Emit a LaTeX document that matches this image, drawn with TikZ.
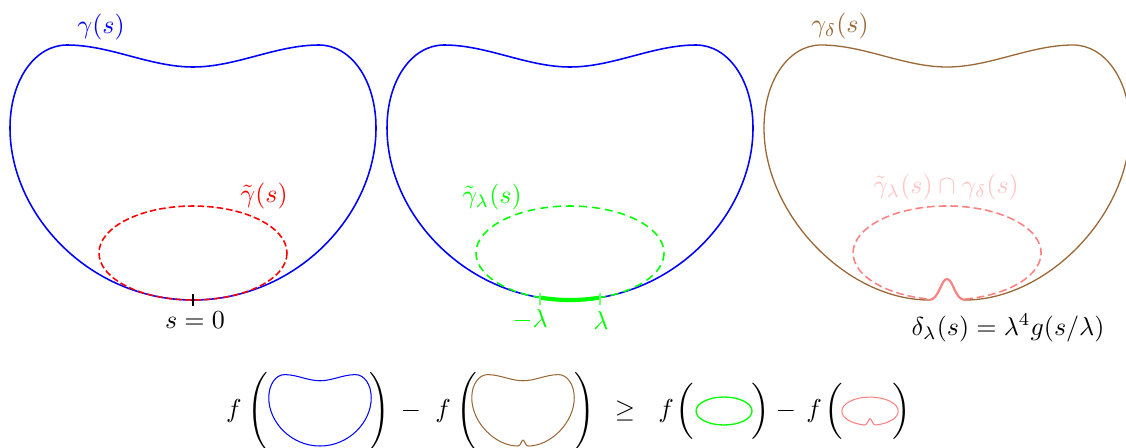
\documentclass[tikz,border=0pt]{standalone}
\usepackage{amsmath}
\usepackage{xcolor}
\usepackage{tikz}
\usetikzlibrary{positioning}
\definecolor{curveblue}{HTML}{0000FF}
\definecolor{curvebrown}{HTML}{9A6836}
\definecolor{curvered}{HTML}{FF0000}
\definecolor{curvegreen}{HTML}{00FF00}
\definecolor{curvepink}{HTML}{FF8080}
\definecolor{labelpink}{HTML}{FFC4C4}
% the closed curve, bottom point at the origin, drawn from right to left over the top
\newcommand{\kidneytop}{.. controls (183,-220) and (158,-255) .. (126,-255)
  .. controls (83,-255) and (43,-233) .. (0,-233)
  .. controls (-43,-233) and (-83,-255) .. (-126,-255)
  .. controls (-158,-255) and (-183,-220) .. (-183,-172)}
\newcommand{\kidney}{(0,0) .. controls (103,0) and (183,-85) .. (183,-172)
  \kidneytop .. controls (-183,-85) and (-103,0) .. cycle}
\newcommand{\bumppart}{(-18,0) .. controls (-8,0) and (-6,-21) .. (0,-21)
  .. controls (6,-21) and (8,0) .. (18,0)}
\newcommand{\kidneybump}{\bumppart .. controls (100,0) and (183,-85) .. (183,-172)
  \kidneytop .. controls (-183,-85) and (-100,0) .. cycle}

\begin{document}
\begin{tikzpicture}[x=0.385pt,y=-0.385pt,
  lbl/.style={inner sep=0pt},
  bigcurve/.style={line width=0.6pt},
  smallcurve/.style={line width=0.4pt}]
  \useasboundingbox (0,0) rectangle (1126,447);
  % gamma and the ellipse inside it
  \begin{scope}[shift={(193,300)}]
    \draw[curveblue,bigcurve] \kidney;
    \draw[curvered,bigcurve,dash pattern=on 2.5pt off 1.2pt] (0,-47) ellipse [x radius=94,y radius=47];
    \draw[black,line width=0.8pt] (0,-6)--(0,6);
  \end{scope}
  \node[lbl,curveblue] (gam) at (101,27) {$\gamma(s)$};
  \node[lbl,curvered] (gamt) at (264,196) {$\tilde{\gamma}(s)$};
  \node[lbl] (szero) at (195,320) {$s=0$};
  % the same curve, the piece between -lambda and lambda
  \begin{scope}[shift={(570,300)}]
    \draw[curveblue,bigcurve] \kidney;
    \draw[curvegreen,bigcurve,dash pattern=on 3pt off 2pt] (0,-47) ellipse [x radius=94,y radius=47];
    \draw[curvegreen,line width=1.6pt] (0,-47) ++(71.4:94 and 47) arc[start angle=71.4,end angle=108.6,x radius=94,y radius=47];
    \foreach \s in {-30,30}
      \draw[curvegreen!55,line width=0.8pt] (\s,-7)--(\s,5);
  \end{scope}
  \node[lbl,curvegreen] (gaml) at (492,197) {$\tilde{\gamma}_\lambda(s)$};
  \node[lbl,curvegreen] (lamm) at (530,320) {$-\lambda$};
  \node[lbl,curvegreen] (lamp) at (601,320) {$\lambda$};
  % perturbed curve with the bump
  \begin{scope}[shift={(947,300)}]
    \draw[curvebrown,line width=0.5pt] \kidneybump;
    \draw[curvepink,bigcurve,dash pattern=on 3pt off 1.5pt] (18,-0.9) arc[start angle=79,end angle=-259,x radius=94,y radius=47];
    \draw[curvepink,line width=0.8pt] \bumppart;
  \end{scope}
  \node[lbl,curvebrown] (gamd) at (840,26) {$\gamma_\delta(s)$};
  \node[lbl,labelpink] (gamc) at (946,187) {$\tilde{\gamma}_\lambda(s)\cap\gamma_\delta(s)$};
  \node[lbl] (delta) at (1008,328) {$\delta_\lambda(s)=\lambda^4g(s/\lambda)$};
  % the inequality
  \foreach \n/\x/\t in {fa/234/$f$, pa/258/$\Bigg($, qa/380/$\Bigg)$, ma/411/$-$,
      fb/443/$f$, pb/467/$\Bigg($, qb/585/$\Bigg)$, ge/625/$\geq$,
      fc/666/$f$, mc/786/$-$, fd/814/$f$}
    \node[lbl] (\n) at (\x,411) {\t};
  \foreach \n/\x/\t in {pc/685/$\Big($, qc/761/$\Big)$, pd/834/$\Big($, qd/902/$\Big)$}
    \node[lbl,font=\large] (\n) at (\x,411) {\t};
  \begin{scope}[shift={(320,446)},scale=0.28]
    \draw[curveblue,smallcurve] \kidney;
  \end{scope}
  \begin{scope}[shift={(523,446)},scale=0.28]
    \draw[curvebrown,smallcurve] \kidneybump;
  \end{scope}
  \draw[curvegreen,line width=0.5pt] (724,411) ellipse [x radius=28,y radius=14];
  \begin{scope}[shift={(870,425)},scale=0.3]
    \draw[curvepink,smallcurve] \bumppart arc[start angle=79,end angle=-259,x radius=94,y radius=47] -- cycle;
  \end{scope}
\end{tikzpicture}
\end{document}
